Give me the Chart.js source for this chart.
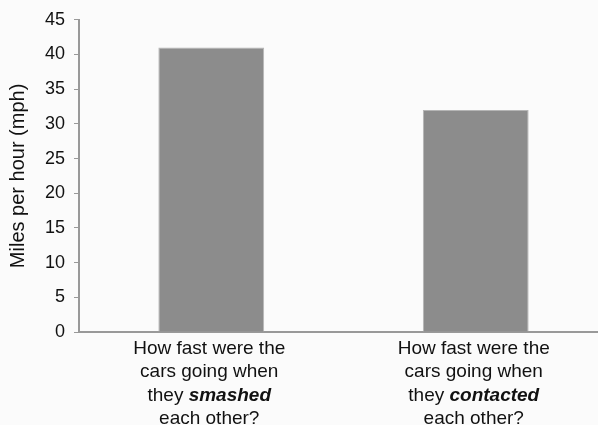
<!DOCTYPE html>
<html>
<head>
<meta charset="utf-8">
<style>
    html, body { margin: 0; padding: 0; background: #fbfbfb; overflow: hidden; }
    #wrap { width: 612px; height: 425px; }
</style>
</head>
<body>
<div id="wrap"><canvas id="speedChart" width="612" height="425"></canvas></div>

<script src="https://cdn.jsdelivr.net/npm/chart.js"></script>
<script>
// words between * are drawn bold italic
const categories = [
    ["How fast were the", "cars going when", "they *smashed*", "each other?"],
    ["How fast were the", "cars going when", "they *contacted*", "each other?"]
];
const speeds = [41, 32];
const yMin = 0;
const yMax = 45;
const yStep = 5;

const fontFamily = "'Liberation Sans', Arial, sans-serif";

// draws the multi-line category labels with mixed styles
const categoryLabels = {
    id: 'categoryLabels',
    afterDraw(chart) {
        const ctx = chart.ctx;
        const xScale = chart.scales.x;
        const lineY = [349, 372, 396, 419];
        ctx.save();
        ctx.fillStyle = '#111';
        ctx.textBaseline = 'middle';
        ctx.textAlign = 'left';
        categories.forEach((lines, i) => {
            const cx = xScale.getPixelForValue(i) - 2;
            lines.forEach((line, j) => {
                const parts = line.split('*').map((t, k) => ({
                    text: t,
                    font: (k % 2 ? 'italic bold ' : '') + '19px ' + fontFamily
                }));
                let total = 0;
                parts.forEach(p => { ctx.font = p.font; p.w = ctx.measureText(p.text).width; total += p.w; });
                let x = cx - total / 2;
                parts.forEach(p => {
                    ctx.font = p.font;
                    ctx.fillText(p.text, x, lineY[j]);
                    x += p.w;
                });
            });
        });
        ctx.restore();
    }
};

new Chart(document.getElementById('speedChart'), {
    type: 'bar',
    data: {
        labels: categories.map(c => c.join(' ').replace(/\*/g, '')),
        datasets: [{
            data: speeds,
            backgroundColor: '#8c8c8c',
            borderColor: '#b5b5b5',
            borderWidth: 1,
            barPercentage: 0.4,
            categoryPercentage: 1.0
        }]
    },
    options: {
        responsive: false,
        devicePixelRatio: 1,
        animation: false,
        layout: { padding: { top: 6, right: 4, bottom: 85, left: 0 } },
        plugins: { legend: { display: false }, tooltip: { enabled: false } },
        scales: {
            x: {
                grid: { display: false },
                ticks: { display: false },
                border: { color: '#999', width: 2 }
            },
            y: {
                min: yMin,
                max: yMax,
                afterFit(scale) { scale.width = 79; },
                ticks: {
                    stepSize: yStep,
                    padding: 9,
                    color: '#111',
                    font: { family: fontFamily, size: 18 }
                },
                grid: {
                    drawOnChartArea: false,
                    drawTicks: true,
                    tickLength: 5,
                    color: '#999'
                },
                border: { color: '#999', width: 2 },
                title: {
                    display: true,
                    text: 'Miles per hour (mph)',
                    color: '#111',
                    font: { family: fontFamily, size: 20 },
                    padding: { top: 6, bottom: 0 }
                }
            }
        }
    },
    plugins: [categoryLabels]
});
</script>
</body>
</html>
